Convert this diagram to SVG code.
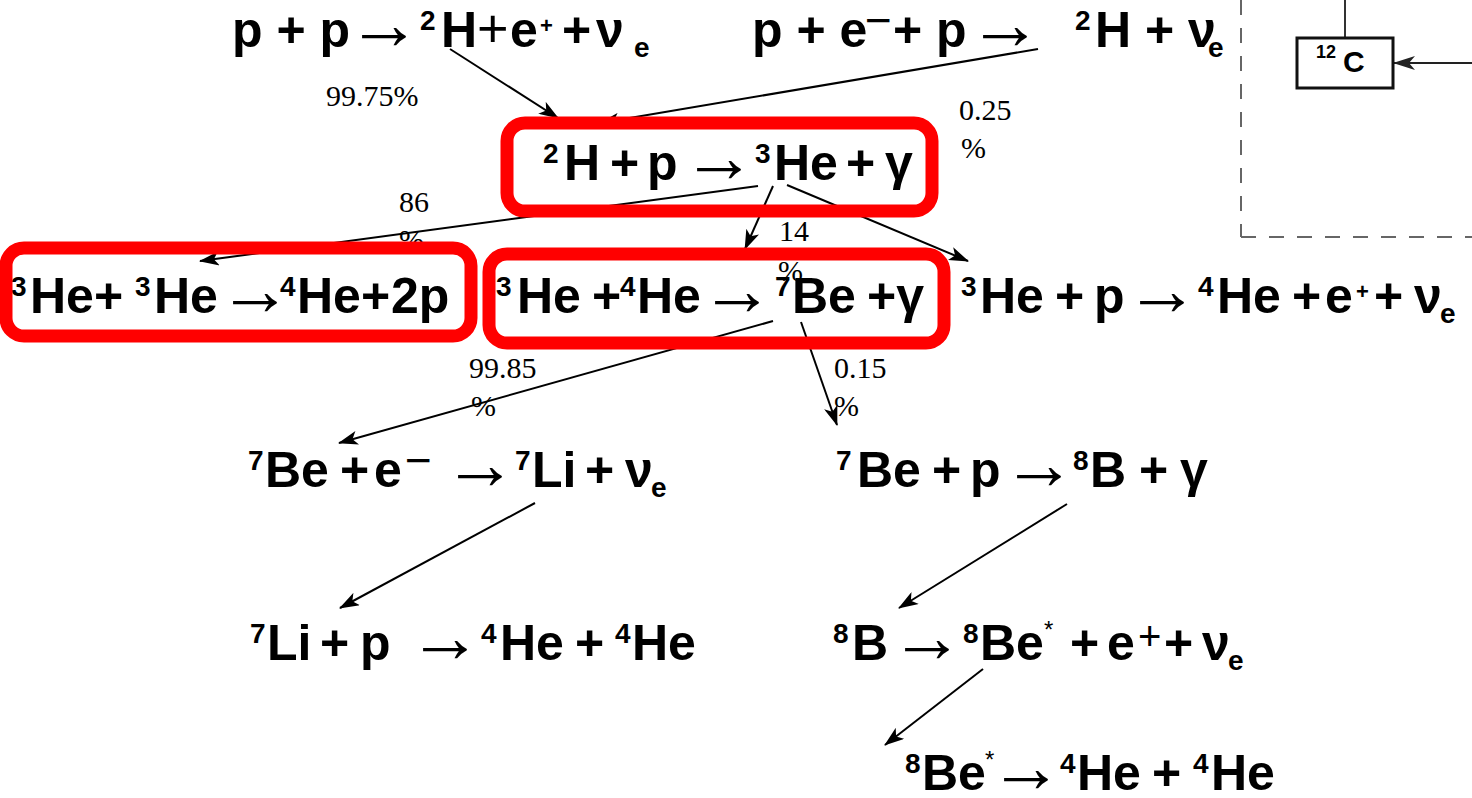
<svg xmlns="http://www.w3.org/2000/svg" width="1472" height="798" viewBox="0 0 1472 798">
<defs>
<style>
.t{font-family:"Liberation Sans",Arial,sans-serif;font-weight:bold;font-size:50px;fill:#000}
.sp{font-size:28px}
.sb{font-size:28px}
.ar{font-family:"Liberation Serif","Times New Roman",serif;font-weight:normal;font-size:74px}
.tp{font-weight:normal;font-size:54px}
.sm{font-size:22px}
.mn{font-weight:normal;font-size:46px}
.tp2{font-weight:normal;font-size:40px}
.st{font-weight:normal;font-size:24px}
.lb{font-family:"Liberation Serif","Times New Roman",serif;font-size:30px;fill:#000}
.cn{stroke:#000;stroke-width:2;fill:none;marker-end:url(#ah)}
.rb{fill:none;stroke:#FF0000;stroke-width:13}
.ds{stroke:#666;stroke-width:2;stroke-dasharray:15 13;fill:none}
</style>
<marker id="ah" markerUnits="userSpaceOnUse" markerWidth="20" markerHeight="14" viewBox="0 0 20 14" refX="19" refY="7" orient="auto">
<path d="M0,0 L20,7 L0,14 L5,7 z" fill="#000"/>
</marker>
<marker id="ahg" markerUnits="userSpaceOnUse" markerWidth="22" markerHeight="14" viewBox="0 0 22 14" refX="21" refY="7" orient="auto">
<path d="M0,0 L22,7 L0,14 L6,7 z" fill="#222"/>
</marker>
</defs>
<rect width="1472" height="798" fill="#fff"/>

<g id="connectors">
<line class="cn" x1="450" y1="49" x2="558" y2="118"/>
<line class="cn" x1="1038" y1="49" x2="600" y2="123"/>
<line class="cn" x1="758" y1="186" x2="200" y2="261"/>
<line class="cn" x1="773" y1="186" x2="745" y2="249"/>
<line class="cn" x1="787" y1="185" x2="968" y2="261"/>
<line class="cn" x1="773" y1="321" x2="339" y2="443"/>
<line class="cn" x1="801" y1="322" x2="837" y2="425"/>
<line class="cn" x1="535" y1="503" x2="340" y2="608"/>
<line class="cn" x1="1067" y1="504" x2="899" y2="608"/>
<line class="cn" x1="983" y1="669" x2="885" y2="745"/>
<line x1="1345" y1="0" x2="1345" y2="38" stroke="#333" stroke-width="2"/>
<line x1="1472" y1="63" x2="1394" y2="63" stroke="#222" stroke-width="2" marker-end="url(#ahg)"/>
<g id="labels">
<text class="lb" x="326" y="106">99.75%</text>
<text class="lb" x="959" y="120">0.25</text>
<text class="lb" x="961" y="158">%</text>
<text class="lb" x="399" y="212">86</text>
<text class="lb" x="399" y="250">%</text>
<text class="lb" x="779" y="241">14</text>
<text class="lb" x="778" y="281">%</text>
<text class="lb" x="469" y="378">99.85</text>
<text class="lb" x="471" y="416">%</text>
<text class="lb" x="834" y="378">0.15</text>
<text class="lb" x="834" y="416">%</text>
</g>
</g>

<g id="frame">
<line class="ds" x1="1241" y1="0" x2="1241" y2="237"/>
<line class="ds" x1="1241" y1="237" x2="1472" y2="237"/>
</g>

<g id="n-c12">
<rect x="1297" y="38" width="96" height="50" fill="#fff" stroke="#111" stroke-width="3"/>
<text class="t" style="font-size:30px"><tspan x="1316" y="58" style="font-size:18px">12</tspan><tspan x="1343" y="72">C</tspan></text>
</g>

<g id="n-pp">
<text class="t"><tspan x="232" y="47">p + p </tspan><tspan class="ar" x="347" y="49">→</tspan><tspan class="sp" x="420" y="30">2</tspan><tspan x="441" y="47">H</tspan><tspan class="tp" x="477" y="47">+</tspan><tspan x="510" y="47">e</tspan><tspan class="sm" x="540" y="33">+</tspan><tspan x="562" y="47">+ </tspan><tspan x="596" y="47">ν</tspan><tspan class="sb" x="634" y="57">e</tspan></text>
</g>

<g id="n-pep">
<text class="t"><tspan x="752" y="47">p + e</tspan><tspan class="mn" x="865" y="36">−</tspan><tspan x="893" y="47">+ p </tspan><tspan class="ar" x="968" y="49">→</tspan><tspan class="sp" x="1075" y="30">2</tspan><tspan x="1095" y="47">H + ν</tspan><tspan class="sb" x="1208" y="57">e</tspan></text>
</g>

<g id="n-2hp">
<text class="t"><tspan class="sp" x="543" y="163">2</tspan><tspan x="564" y="180">H </tspan><tspan x="610" y="180">+ </tspan><tspan x="647" y="180">p </tspan><tspan class="ar" x="682" y="182">→</tspan><tspan class="sp" x="755" y="163">3</tspan><tspan x="774" y="180">He </tspan><tspan x="846" y="180">+ </tspan><tspan x="885" y="180">γ</tspan></text>
<rect class="rb" x="507" y="123" width="425" height="88" rx="18"/>
</g>

<g id="n-he3he3">
<text class="t"><tspan class="sp" x="11" y="296">3</tspan><tspan x="30" y="313">He+ </tspan><tspan class="sp" x="135" y="296">3</tspan><tspan x="154" y="313">He </tspan><tspan class="ar" x="218" y="315">→</tspan><tspan class="sp" x="280" y="296">4</tspan><tspan x="297" y="313">He+ </tspan><tspan x="391" y="313">2p</tspan></text>
<rect class="rb" x="6" y="248" width="465" height="88" rx="18"/>
</g>

<g id="n-he3he4">
<text class="t"><tspan class="sp" x="496" y="296">3</tspan><tspan x="517" y="313">He </tspan><tspan x="592" y="313">+</tspan><tspan class="sp" x="620" y="296">4</tspan><tspan x="637" y="313">He </tspan><tspan class="ar" x="700" y="315">→</tspan><tspan class="sp" x="775" y="296">7</tspan><tspan x="792" y="313">Be </tspan><tspan x="867" y="313">+γ</tspan></text>
<rect class="rb" x="489" y="254" width="455" height="89" rx="18"/>
</g>

<g id="n-he3p">
<text class="t"><tspan class="sp" x="961" y="296">3</tspan><tspan x="980" y="313">He </tspan><tspan x="1055" y="313">+ </tspan><tspan x="1094" y="313">p </tspan><tspan class="ar" x="1125" y="315">→</tspan><tspan class="sp" x="1198" y="296">4</tspan><tspan x="1217" y="313">He </tspan><tspan x="1292" y="313">+ </tspan><tspan x="1325" y="313">e</tspan><tspan class="sm" x="1356" y="299">+</tspan><tspan x="1374" y="313">+ </tspan><tspan x="1414" y="313">ν</tspan><tspan class="sb" x="1440" y="323">e</tspan></text>
</g>

<g id="n-be7e">
<text class="t"><tspan class="sp" x="248" y="470">7</tspan><tspan x="265" y="487">Be </tspan><tspan x="340" y="487">+ </tspan><tspan x="374" y="487">e</tspan><tspan class="mn" x="405" y="476">−</tspan><tspan class="ar" x="443" y="489">→</tspan><tspan class="sp" x="515" y="470">7</tspan><tspan x="532" y="487">Li </tspan><tspan x="585" y="487">+ </tspan><tspan x="625" y="487">ν</tspan><tspan class="sb" x="651" y="497">e</tspan></text>
</g>

<g id="n-be7p">
<text class="t"><tspan class="sp" x="836" y="470">7</tspan><tspan x="857" y="487">Be </tspan><tspan x="932" y="487">+ </tspan><tspan x="970" y="487">p </tspan><tspan class="ar" x="1002" y="489">→</tspan><tspan class="sp" x="1073" y="470">8</tspan><tspan x="1090" y="487">B </tspan><tspan x="1139" y="487">+ </tspan><tspan x="1180" y="487">γ</tspan></text>
</g>

<g id="n-li7p">
<text class="t"><tspan class="sp" x="250" y="643">7</tspan><tspan x="267" y="660">Li </tspan><tspan x="320" y="660">+ </tspan><tspan x="360" y="660">p  </tspan><tspan class="ar" x="408" y="662">→</tspan><tspan class="sp" x="481" y="643">4</tspan><tspan x="500" y="660">He </tspan><tspan x="575" y="660">+ </tspan><tspan class="sp" x="615" y="643">4</tspan><tspan x="632" y="660">He</tspan></text>
</g>

<g id="n-b8">
<text class="t"><tspan class="sp" x="833" y="643">8</tspan><tspan x="852" y="660">B </tspan><tspan class="ar" x="890" y="662">→</tspan><tspan class="sp" x="963" y="643">8</tspan><tspan x="980" y="660">Be</tspan><tspan class="st" x="1044" y="638">*</tspan><tspan x="1070" y="660">+ </tspan><tspan x="1107" y="660">e</tspan><tspan class="tp2" x="1138" y="650">+</tspan><tspan x="1164" y="660">+ </tspan><tspan x="1202" y="660">ν</tspan><tspan class="sb" x="1228" y="670">e</tspan></text>
</g>

<g id="n-be8">
<text class="t"><tspan class="sp" x="905" y="773">8</tspan><tspan x="922" y="790">Be</tspan><tspan class="st" x="985" y="768">*</tspan><tspan class="ar" x="989" y="792">→</tspan><tspan class="sp" x="1060" y="773">4</tspan><tspan x="1077" y="790">He </tspan><tspan x="1152" y="790">+ </tspan><tspan class="sp" x="1193" y="773">4</tspan><tspan x="1211" y="790">He</tspan></text>
</g>
</svg>
